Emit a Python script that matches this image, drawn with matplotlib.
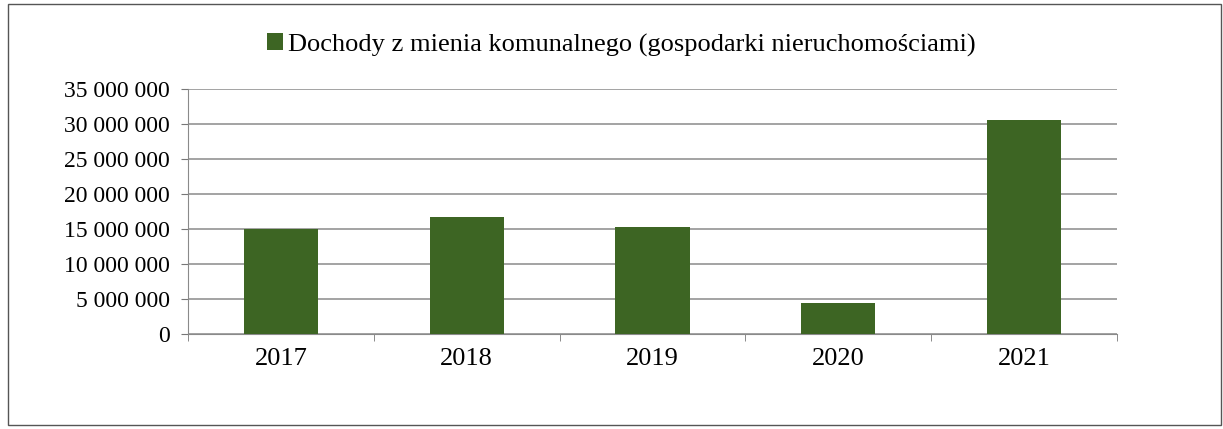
import matplotlib.pyplot as plt
from matplotlib.ticker import FuncFormatter
from matplotlib.patches import Rectangle

years = ["2017", "2018", "2019", "2020", "2021"]
dochody = [15000000, 16700000, 15300000, 4400000, 30600000]
series_name = "Dochody z mienia komunalnego (gospodarki nieruchomościami)"

plt.rcParams["font.family"] = ["Liberation Serif", "DejaVu Serif"]

fig = plt.figure(figsize=(12.23, 4.29), dpi=100)
ax = fig.add_axes([188 / 1223, 1 - 334 / 429, (1117 - 188) / 1223, (334 - 89) / 429])

x = range(len(years))
ax.bar(x, dochody, width=0.4, color="#3d6523", label=series_name, zorder=3)

ax.set_xlim(-0.5, len(years) - 0.5)
ax.set_ylim(0, 35000000)
ax.set_yticks(range(0, 35000001, 5000000))
ax.yaxis.set_major_formatter(FuncFormatter(lambda v, p: f"{int(v):,}".replace(",", " ")))
ax.set_xticks(list(x))
ax.set_xticklabels(years, fontsize=19)
ax.set_xticks([i - 0.5 for i in range(len(years) + 1)], minor=True)
ax.tick_params(axis="x", which="major", length=0, pad=10)
ax.tick_params(axis="x", which="minor", length=5, color="#777777", direction="out")
ax.tick_params(axis="y", length=5, color="#777777", labelsize=17, pad=8)

ax.grid(axis="y", color="#8a8a8a", linewidth=1.1, zorder=0)
for s in ["top", "right"]:
    ax.spines[s].set_visible(False)
ax.spines["left"].set_color("#8a8a8a")
ax.spines["bottom"].set_color("#8a8a8a")

fig.legend(loc="center", bbox_to_anchor=(0.508, 1 - 45 / 429), frameon=False,
           fontsize=19, handlelength=0.6, handleheight=0.6, handletextpad=0.2)

fig.patches.append(Rectangle((8 / 1223, 4 / 429), 1213 / 1223, 421 / 429, transform=fig.transFigure,
                             fill=False, edgecolor="#555555", linewidth=1))

fig.savefig("out.png", dpi=100)
